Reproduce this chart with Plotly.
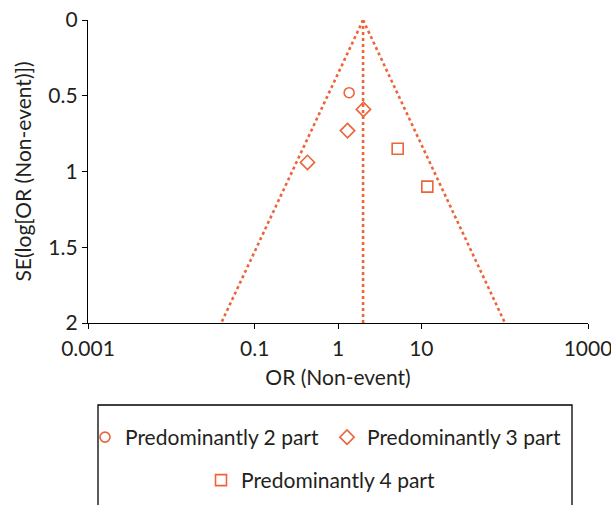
import numpy as np
import plotly.graph_objects as go

# Study estimates: odds ratio (non-event) and standard error of log OR
p2_or = [1.36]
p2_se = [0.48]

p3_or = [2.02, 1.30, 0.43]
p3_se = [0.59, 0.73, 0.94]

p4_or = [5.2, 11.8]
p4_se = [0.85, 1.10]

pooled_or = 2.0
se_max = 2.0

x_tickvals = [0.001, 0.1, 1, 10, 1000]
x_ticktext = ["0.001", "0.1", "1", "10", "1000"]
y_tickvals = [0, 0.5, 1, 1.5, 2]
y_ticktext = ["0", "0.5", "1", "1.5", "2"]

ORANGE = "#EC6439"
TEXT = "#231F20"
FONT = "Lato"

# 95% pseudo-confidence funnel around the pooled estimate
se_line = np.array([0.0, se_max])
lower = np.exp(np.log(pooled_or) - 1.96 * se_line)
upper = np.exp(np.log(pooled_or) + 1.96 * se_line)

fig = go.Figure()

line_style = dict(color=ORANGE, width=2.6, dash="dot")
fig.add_trace(go.Scatter(x=lower, y=se_line, mode="lines", line=line_style,
                         showlegend=False, hoverinfo="skip"))
fig.add_trace(go.Scatter(x=upper, y=se_line, mode="lines", line=line_style,
                         showlegend=False, hoverinfo="skip"))
fig.add_trace(go.Scatter(x=[pooled_or, pooled_or], y=se_line, mode="lines",
                         line=line_style, showlegend=False, hoverinfo="skip"))

marker_line = dict(color=ORANGE, width=1.6)
fig.add_trace(go.Scatter(x=p2_or, y=p2_se, mode="markers", name="Predominantly 2 part",
                         marker=dict(symbol="circle-open", size=10, color=ORANGE, line=marker_line),
                         legend="legend"))
fig.add_trace(go.Scatter(x=p3_or, y=p3_se, mode="markers", name="Predominantly 3 part",
                         marker=dict(symbol="diamond-open", size=11, color=ORANGE, line=marker_line),
                         legend="legend"))
fig.add_trace(go.Scatter(x=p4_or, y=p4_se, mode="markers", name="Predominantly 4 part",
                         marker=dict(symbol="square-open", size=11, color=ORANGE, line=marker_line),
                         legend="legend2"))

axis_common = dict(
    showline=True, linecolor="black", linewidth=1.3,
    ticks="outside", ticklen=5, tickcolor="black", tickwidth=1.3,
    showgrid=False, zeroline=False, ticklabeloverflow="allow",
    tickfont=dict(family=FONT, size=21, color=TEXT),
)

# companion axes that add the inner half of each tick mark
inner_ticks = dict(ticks="inside", ticklen=4, tickcolor="black", tickwidth=1.3,
                   showticklabels=False, showline=False, showgrid=False, zeroline=False)

legend_font = dict(family=FONT, size=21, color=TEXT)

fig.update_layout(
    width=611, height=505,
    margin=dict(l=88, r=23, t=20, b=182, autoexpand=False),
    paper_bgcolor="white", plot_bgcolor="white",
    font=dict(family=FONT, size=21, color=TEXT),
    xaxis=dict(type="log", range=[-3, 3], tickvals=x_tickvals, ticktext=x_ticktext,
               title=dict(text="OR (Non-event)", font=dict(family=FONT, size=21, color=TEXT),
                          standoff=10),
               ticklabelstandoff=2,
               **axis_common),
    yaxis=dict(range=[2, 0], tickvals=y_tickvals, ticktext=y_ticktext,
               title=dict(text="SE(log[OR (Non-event)])", font=dict(family=FONT, size=21, color=TEXT),
                          standoff=10),
               **axis_common),
    xaxis2=dict(type="log", range=[-3, 3], tickvals=x_tickvals, overlaying="x",
                anchor="y", side="bottom", **inner_ticks),
    yaxis2=dict(range=[2, 0], tickvals=y_tickvals, overlaying="y",
                anchor="x", side="left", **inner_ticks),
    legend=dict(orientation="h", xref="container", yref="container",
                x=85 / 611, xanchor="left", y=1 - 417 / 505, yanchor="top",
                bgcolor="rgba(0,0,0,0)", borderwidth=0, entrywidth=197,
                font=legend_font, itemwidth=30),
    legend2=dict(orientation="h", xref="container", yref="container",
                 x=201 / 611, xanchor="left", y=1 - 460 / 505, yanchor="top",
                 bgcolor="rgba(0,0,0,0)", borderwidth=0,
                 font=legend_font, itemwidth=30),
    shapes=[dict(type="rect", xref="paper", yref="paper",
                 x0=0.02, x1=0.968, y0=-0.2706, y1=-0.65,
                 line=dict(color="black", width=1.3), fillcolor="rgba(0,0,0,0)")],
)

fig.write_html("out.html")
